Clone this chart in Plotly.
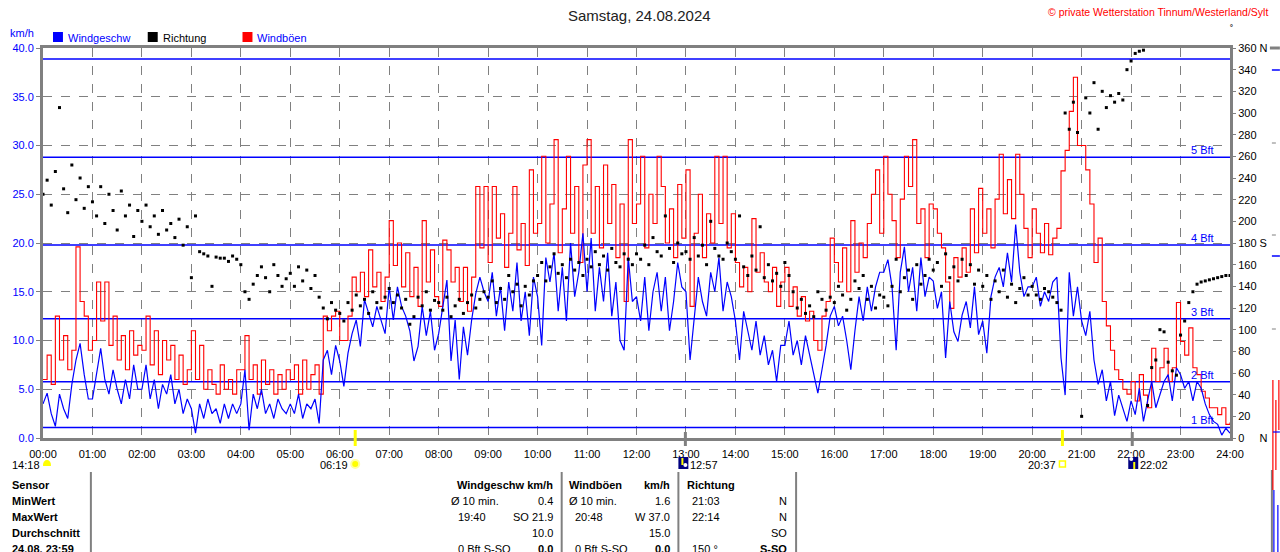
import plotly.graph_objects as go

# ---------------- data (5-minute readings, 00:00 .. 24:00) ----------------
wind_kmh = [
    3.5, 4.6, 2.5, 1.2, 4.5, 3.0, 2.0, 5.5, 8.0, 9.7, 6.5, 4.0,
    4.0, 6.5, 9.2, 6.0, 4.5, 7.0, 5.0, 3.5, 6.0, 4.0, 7.5, 5.0,
    5.0, 7.5, 4.0, 6.0, 3.0, 5.5, 4.5, 6.5, 3.5, 5.0, 2.5, 4.0,
    3.0, 0.5, 3.5, 2.0, 4.0, 2.5, 3.0, 1.5, 3.5, 2.0, 3.5, 2.5,
    3.5, 7.0, 0.8, 4.5, 3.0, 5.0, 2.5, 3.5, 2.0, 4.0, 3.0, 2.5,
    3.5, 2.5, 4.5, 2.0, 3.5, 3.0, 4.0, 1.5, 8.0, 9.0, 6.5, 9.5,
    7.9, 5.3, 8.7, 10.7, 12.1, 9.4, 14.2, 12.8, 11.4, 13.5, 12.1, 10.7,
    15.5, 12.1, 15.5, 13.5, 12.5, 11.0, 7.9, 9.4, 13.5, 10.5, 13.0, 9.0,
    10.7, 13.5, 16.2, 7.9, 12.1, 6.0, 11.4, 8.5, 12.1, 14.8, 16.5, 15.0,
    14.0, 17.0, 12.5, 15.5, 11.0, 16.0, 13.0, 18.0, 12.0, 15.0, 10.5, 16.5,
    14.5, 9.5, 18.5, 16.0, 19.0, 13.0, 17.5, 12.0, 20.0, 14.5, 17.0, 21.0,
    15.0, 20.5, 13.0, 17.5, 14.0, 19.0, 12.5, 16.0, 10.0, 9.0, 18.5, 14.0,
    14.5, 12.0, 16.5, 11.0, 15.0, 17.0, 13.0, 16.5, 11.0, 14.0, 18.0, 15.5,
    15.0, 8.0, 12.0, 16.5, 14.0, 12.5, 17.0, 15.0, 18.5, 13.0, 16.0, 14.5,
    12.0, 8.0, 13.0, 11.0, 9.0, 12.0, 8.5, 10.5, 7.5, 9.0, 5.8, 9.5,
    9.5, 12.0, 8.5, 10.0, 7.5, 10.5, 8.5, 6.5, 4.6, 7.0, 9.5, 12.5,
    13.5, 11.5, 12.5, 10.0, 7.0, 11.0, 14.5, 12.0, 15.5, 13.0, 15.5, 17.0,
    17.0, 18.3, 15.5, 9.0, 17.0, 19.6, 15.0, 17.5, 13.0, 18.5, 14.5, 16.5,
    16.1, 13.3, 15.0, 8.2, 14.0, 10.9, 9.9, 12.6, 14.0, 11.3, 15.5, 10.6,
    12.0, 8.7, 14.5, 16.5, 17.5, 15.5, 19.0, 16.0, 21.9, 17.0, 14.5, 15.5,
    15.5, 16.5, 13.5, 15.0, 14.0, 16.0, 16.5, 8.2, 4.4, 17.0, 12.5, 15.5,
    12.0, 10.5, 13.0, 8.0, 5.5, 7.0, 3.8, 5.8, 2.3, 4.4, 3.1, 1.7,
    3.8, 2.4, 5.1, 1.7, 3.8, 5.8, 3.1, 4.4, 5.8, 6.5, 3.8, 7.2,
    6.5, 5.1, 5.8, 3.8, 5.8, 5.1, 3.5, 2.4, 1.7, 1.4, 0.3, 1.0,
    0.5,
]

gust_kmh = [
    6.0, 8.5, 5.5, 12.5, 8.0, 10.5, 7.0, 9.0, 19.6, 14.0, 12.5, 9.0,
    10.0, 16.0, 12.0, 16.0, 9.5, 12.5, 8.0, 10.5, 7.0, 11.0, 8.5, 9.5,
    9.0, 12.5, 7.5, 11.0, 6.5, 10.0, 8.0, 9.5, 6.0, 8.5, 5.5, 7.0,
    11.0, 6.0, 9.5, 5.0, 7.0, 5.5, 4.5, 7.5, 5.0, 6.0, 4.5, 7.0,
    7.0, 10.5, 6.0, 7.5, 4.5, 8.0, 5.5, 7.0, 4.5, 6.5, 5.0, 7.0,
    6.0, 7.5, 4.5, 8.0, 5.0, 6.5, 7.5, 4.5, 12.5, 11.0, 12.5, 13.0,
    10.0, 10.0, 12.5, 16.5, 15.0, 17.0, 14.5, 19.3, 15.5, 17.0, 14.0, 16.5,
    22.3, 17.7, 20.0, 15.5, 19.0, 14.5, 17.5, 13.5, 22.3, 16.0, 19.3, 14.5,
    13.5, 20.3, 19.3, 16.0, 17.5, 14.0, 17.5, 13.0, 16.5, 25.8, 19.5, 25.8,
    18.0, 25.8, 20.5, 23.0, 17.5, 21.0, 25.8, 19.3, 22.0, 17.7, 27.5, 21.0,
    22.0, 28.9, 20.0, 24.0, 30.6, 19.0, 23.5, 28.9, 21.0, 25.8, 18.0, 28.0,
    30.6, 21.0, 25.8, 19.5, 28.0, 22.0, 26.0, 18.5, 24.0, 14.0, 30.6, 22.0,
    24.0, 28.9, 19.5, 25.0, 22.0, 28.9, 25.8, 20.0, 23.5, 18.5, 26.0, 20.5,
    27.5, 13.5, 21.0, 25.0, 18.5, 23.0, 20.0, 28.9, 22.0, 28.9, 19.5, 23.0,
    18.0, 15.5, 17.5, 15.0, 22.5, 17.0, 19.0, 16.0, 15.0, 17.5, 13.5, 16.0,
    17.5, 13.5, 15.5, 12.5, 14.5, 12.0, 13.0, 10.0, 9.0, 12.5, 14.0, 20.5,
    18.0, 16.0, 19.5, 15.0, 22.3, 17.0, 20.0, 18.5, 22.0, 25.0, 27.5, 21.0,
    28.9, 25.0, 22.3, 18.5, 24.5, 28.9, 25.8, 30.6, 22.0, 23.5, 18.5, 24.0,
    23.5, 21.0, 19.5, 16.0, 13.3, 18.5, 16.5, 19.5, 17.0, 23.5, 19.0, 25.6,
    21.0, 23.5, 19.5, 24.5, 29.1, 23.0, 26.5, 22.5, 29.1, 25.0, 21.5, 18.5,
    23.5, 21.0, 19.0, 22.0, 18.8, 20.5, 21.5, 27.4, 29.5, 33.5, 37.0, 30.0,
    30.0, 27.5, 24.0, 18.0, 20.5, 14.0, 11.5, 9.0, 7.0, 6.0, 5.0, 4.5,
    5.8, 3.8, 6.5, 4.4, 3.1, 9.2, 5.8, 7.2, 9.2, 5.8, 7.2, 13.9,
    9.9, 8.5, 11.3, 7.2, 6.5, 4.8, 4.1, 3.1, 3.1, 2.4, 3.1, 1.4,
    1.6,
]

direction_deg = [
    225, 238, 215, 246, 305, 230, 208, 252, 220, 240, 212, 232,
    218, 205, 232, 198, 225, 210, 192, 228, 205, 215, 186, 210,
    200, 215, 195, 205, 188, 210, 192, 198, 185, 202, 178, 195,
    148, 205, 172, 170, 168, 140, 167, 166, 166, 163, 168, 165,
    160, 135, 128, 142, 150, 158, 148, 135, 160, 150, 140, 147,
    152, 140, 158, 145, 155, 138, 150, 130, 120, 110, 125, 118,
    115, 108, 125, 118, 132, 122, 128, 115, 135, 125, 120, 130,
    138, 125, 132, 120, 128, 105, 112, 130, 122, 135, 118, 127,
    125, 118, 130, 112, 122, 128, 115, 125, 132, 120, 128, 135,
    130, 145, 125, 138, 128, 150, 135, 142, 122, 140, 132, 145,
    150, 162, 145, 158, 170, 152, 160, 148, 165, 155, 162, 150,
    165, 158, 172, 160, 168, 155, 175, 162, 158, 170, 165, 160,
    170, 165, 178, 160, 185, 172, 168, 205, 175, 162, 180, 170,
    172, 165, 185, 168, 178, 160, 200, 175, 168, 165, 180, 172,
    165, 205, 158, 150, 168, 155, 195, 148, 160, 145, 152, 140,
    162, 150, 135, 120, 128, 115, 122, 112, 135, 128, 118, 130,
    125, 140, 132, 118, 128, 145, 138, 150, 128, 140, 120, 132,
    130, 122, 140, 165, 135, 148, 155, 128, 160, 142, 150, 165,
    155, 162, 140, 170, 148, 158, 145, 165, 150, 160, 142, 155,
    140, 150, 128, 145, 135, 155, 130, 142, 125, 138, 148, 132,
    140, 132, 128, 138, 135, 130, 125, 118, 300, 285, 310, 282,
    20, 314, 300, 328, 285, 320, 305, 316, 310, 318, 312, 340,
    348, 355, 357, 358, 30, 65, 72, 100, 98, 70, 62, 58,
    95, 108, 125, 135, 142, 144, 145, 146, 147, 148, 149, 150,
    150,
]

time_h = [i * 5 / 60 for i in range(len(wind_kmh))]

beaufort_kmh = [1.08, 5.76, 12.24, 19.8, 28.8, 38.88]
beaufort_labels = ["1 Bft", "2 Bft", "3 Bft", "4 Bft", "5 Bft", ""]

hour_ticks = list(range(25))
hour_labels = [f"{h:02d}:00" for h in hour_ticks]
kmh_ticks = [0, 5, 10, 15, 20, 25, 30, 35, 40]
deg_ticks = list(range(0, 361, 20))
deg_labels = [("0\u00a0\u00a0\u00a0\u00a0\u00a0N" if d == 0 else
               "180 S" if d == 180 else
               "360 N" if d == 360 else str(d)) for d in deg_ticks]

title_text = "Samstag, 24.08.2024"
copyright_text = "© private Wetterstation Tinnum/Westerland/Sylt"

row_labels = ["Sensor", "MinWert", "MaxWert", "Durchschnitt", "24.08. 23:59"]

# ---------------- figure ----------------
FONT = "Liberation Sans, Arial, sans-serif"
GRAY = "#808080"
BLUE = "#0000ff"
RED = "#ff0000"

L, R, T, B = 40, 1230, 48, 438


def px(xpix):
    return (xpix - L) / (R - L)


def py(ypix):
    return (B - ypix) / (B - T)


fig = go.Figure()

bx, by = [], []
for v in beaufort_kmh:
    bx += [0, 24, None]
    by += [v, v, None]
fig.add_trace(go.Scatter(x=bx, y=by, mode="lines",
                         line=dict(color=BLUE, width=1.5),
                         hoverinfo="skip", showlegend=False))

fig.add_trace(go.Scatter(x=time_h, y=gust_kmh, mode="lines", name="Windböen",
                         line=dict(color=RED, width=1.1, shape="hv"),
                         showlegend=False))
fig.add_trace(go.Scatter(x=time_h, y=wind_kmh, mode="lines", name="Windgeschw",
                         line=dict(color=BLUE, width=1.2),
                         showlegend=False))
fig.add_trace(go.Scatter(x=time_h, y=direction_deg, mode="markers", name="Richtung",
                         marker=dict(color="black", size=3, symbol="square",
                                     line=dict(width=0)),
                         yaxis="y2", showlegend=False))

annotations = []


def ann(text, x, y, xanchor="left", size=11, color="black", yanchor="middle", pad=1):
    annotations.append(dict(text=text, x=px(x), y=py(y), xref="paper", yref="paper",
                            xanchor=xanchor, yanchor=yanchor, showarrow=False,
                            borderpad=pad,
                            font=dict(family=FONT, size=size, color=color)))


for v, lab in zip(beaufort_kmh, beaufort_labels):
    if lab:
        annotations.append(dict(text=lab, x=23.72, y=v, xref="x", yref="y",
                                xanchor="right", yanchor="bottom", showarrow=False,
                                yshift=-1,
                                font=dict(family=FONT, size=11, color=BLUE)))

ann(title_text, 638, 15, xanchor="center", size=15, color="#222222")
ann(copyright_text, 1270, 12, xanchor="right", size=10.5, color=RED)
ann("km/h", 5, 33, size=11, color=BLUE)
ann("Windgeschw", 63, 38, color=BLUE)
ann("Richtung", 158, 38, color="black")
ann("Windböen", 253, 38, color=BLUE)
ann("˚", 1232, 30, xanchor="center", size=10)

# sun / moon times
ann("14:18", 38, 465, xanchor="right", pad=0)
ann("06:19", 347, 465, xanchor="right", pad=0)
ann("12:57", 688, 465, pad=0)
ann("20:37", 1057, 465, xanchor="right", pad=0)
ann("22:02", 1139, 465, pad=0)

# table
rows_y = [485, 501, 517, 533, 549]
for lab, yy in zip(row_labels, rows_y):
    ann(f"<b>{lab}</b>", 7, yy)

ann("<b>Windgeschw km/h</b>", 553, 485, xanchor="right")
ann("Ø 10 min.", 447, 501)
ann("0.4", 553, 501, xanchor="right")
ann("19:40", 454, 517)
ann("SO 21.9", 553, 517, xanchor="right")
ann("10.0", 553, 533, xanchor="right")
ann("0 Bft S-SO", 454, 549)
ann("<b>0.0</b>", 553, 549, xanchor="right")

ann("<b>Windböen</b>", 565, 485)
ann("<b>km/h</b>", 671, 485, xanchor="right")
ann("Ø 10 min.", 565, 501)
ann("1.6", 671, 501, xanchor="right")
ann("20:48", 571, 517)
ann("W 37.0", 671, 517, xanchor="right")
ann("15.0", 671, 533, xanchor="right")
ann("0 Bft S-SO", 571, 549)
ann("<b>0.0</b>", 671, 549, xanchor="right")

ann("<b>Richtung</b>", 684, 485)
ann("21:03", 689, 501)
ann("N", 788, 501, xanchor="right")
ann("22:14", 689, 517)
ann("N", 788, 517, xanchor="right")
ann("SO", 788, 533, xanchor="right")
ann("150 °", 689, 549)
ann("<b>S-SO</b>", 788, 549, xanchor="right")

shapes = []


def line(x0, y0, x1, y1, color=GRAY, width=2):
    shapes.append(dict(type="line", xref="paper", yref="paper",
                       x0=px(x0), y0=py(y0), x1=px(x1), y1=py(y1),
                       line=dict(color=color, width=width)))


def rect(x0, y0, x1, y1, fill, lc=None, lw=0):
    shapes.append(dict(type="rect", xref="paper", yref="paper",
                       x0=px(x0), y0=py(y0), x1=px(x1), y1=py(y1),
                       fillcolor=fill, line=dict(color=lc or fill, width=lw)))


def circle(x0, y0, x1, y1, fill, lc=None, lw=0):
    shapes.append(dict(type="circle", xref="paper", yref="paper",
                       x0=px(x0), y0=py(y0), x1=px(x1), y1=py(y1),
                       fillcolor=fill, line=dict(color=lc or fill, width=lw)))


rect(50, 32, 60, 42, BLUE)
rect(145, 32, 155, 42, "black")
rect(240, 32, 250, 42, RED)

for xx in (88, 560, 677, 795):
    line(xx, 472, xx, 552, GRAY, 2)

line(353, 430, 353, 446, "#ffff00", 3)
line(1062, 430, 1062, 446, "#ffff00", 3)
line(684, 432, 684, 446, GRAY, 3)
line(1132, 432, 1132, 446, GRAY, 3)

# icons
circle(40, 460, 48, 470, "#ffff00")
rect(39, 466, 49, 471, "white")
circle(349, 460, 357, 468, "#ffff00", "#ffffa0", 2)
rect(677, 457, 687, 469, "#000080")
rect(680, 458, 682, 465, "#ffff00")
circle(682, 463, 686, 467, "white")
rect(1059, 461, 1065, 467, "rgba(0,0,0,0)", "#ffff00", 1.5)
rect(1128, 457, 1138, 469, "#000080")
circle(1129, 457, 1133, 461, "white")
rect(1133, 462, 1135, 469, "#ffff00")

# cut-off neighbour panel at the right edge
line(1270, 48, 1280, 48, GRAY, 3)
line(1272, 70, 1280, 70, BLUE, 1.5)
line(1272, 143, 1276, 143, GRAY, 1)
line(1272, 235, 1276, 235, GRAY, 1)
line(1272, 256, 1280, 256, BLUE, 1.5)
line(1272, 329, 1276, 329, GRAY, 1)
line(1272, 470, 1272, 552, GRAY, 2)
line(1273, 380, 1273, 490, RED, 1.2)
line(1276, 400, 1276, 470, RED, 1.2)
line(1279, 380, 1279, 430, RED, 1.2)
line(1273, 432, 1280, 432, BLUE, 1.2)
line(1274, 490, 1274, 552, BLUE, 1.2)
line(1278, 505, 1278, 552, BLUE, 1.2)

fig.update_layout(
    width=1280, height=552, autosize=False,
    margin=dict(l=L, r=1280 - R, t=T, b=552 - B, pad=0),
    paper_bgcolor="white", plot_bgcolor="white",
    font=dict(family=FONT, size=11, color="black"),
    showlegend=False,
    annotations=annotations,
    shapes=shapes,
    xaxis=dict(range=[0, 24], tickvals=hour_ticks, ticktext=hour_labels,
               showgrid=True, gridcolor=GRAY, griddash="dash", gridwidth=1,
               showline=True, linecolor=GRAY, linewidth=3, mirror=True,
               ticks="outside", ticklen=4, tickcolor="rgba(0,0,0,0)",
               tickfont=dict(size=11, color="black"), zeroline=False,
               fixedrange=True),
    yaxis=dict(range=[0, 40], tickvals=kmh_ticks,
               ticktext=[f"{v:.1f}" for v in kmh_ticks],
               showgrid=True, gridcolor=GRAY, griddash="dash", gridwidth=1,
               showline=True, linecolor=GRAY, linewidth=3, mirror=True,
               ticks="outside", ticklen=4, tickcolor=GRAY,
               tickfont=dict(size=11, color=BLUE), zeroline=False,
               fixedrange=True),
    yaxis2=dict(range=[0, 360], overlaying="y", side="right",
                tickvals=deg_ticks, ticktext=deg_labels,
                showgrid=False, zeroline=False, showline=False,
                ticks="outside", ticklen=5, tickcolor=GRAY,
                tickfont=dict(size=11, color="black"), fixedrange=True),
)

fig.write_html(
    "out.html",
    config={"displayModeBar": False},
    post_script="document.body.style.margin='0';document.body.style.overflow='hidden';",
)
